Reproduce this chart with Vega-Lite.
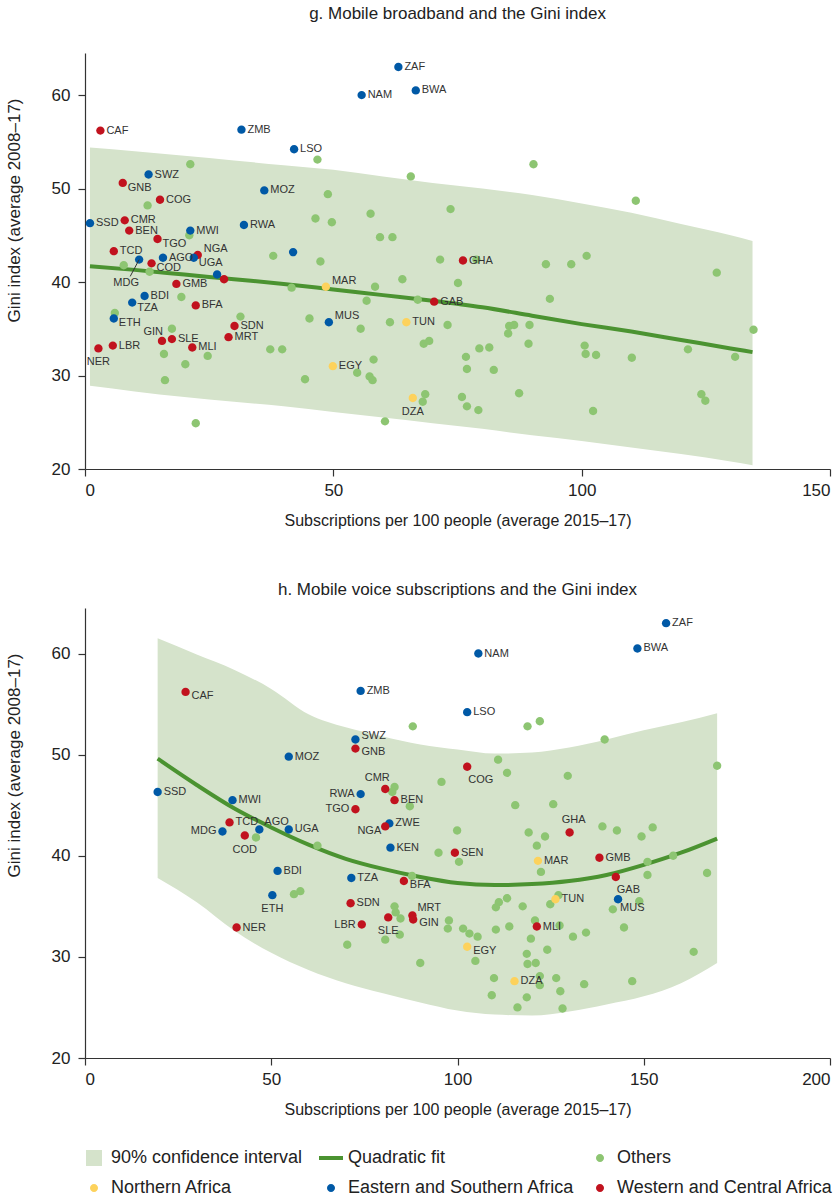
{
"$schema": "https://vega.github.io/schema/vega-lite/v6.json",
"background": "white",
"padding": {"left": 5, "top": 5, "right": 5, "bottom": 5},
"config": {
  "font": "Liberation Sans",
  "view": {"stroke": null},
  "axis": {"domainColor": "#333", "tickColor": "#333", "labelColor": "#222", "titleColor": "#222", "labelFontSize": 17, "titleFontSize": 16, "titleFontWeight": "normal", "grid": false, "tickSize": 7, "domainWidth": 1.2, "tickWidth": 1.2},
  "axisX": {"labelPadding": 6, "titlePadding": 14},
  "axisY": {"labelPadding": 8, "titlePadding": 28, "titleFontSize": 17, "titleY": 157},
  "title": {"fontSize": 17, "fontWeight": "normal", "color": "#222"},
  "text": {"font": "Liberation Sans", "fontSize": 11, "color": "#333"},
  "legend": {"title": null, "orient": "bottom", "direction": "horizontal", "columns": 3, "labelFontSize": 18, "labelColor": "#222", "labelLimit": 400, "columnPadding": 16, "rowPadding": 12, "symbolSize": 256, "labelOffset": 8, "offset": 32, "symbolStrokeWidth": 0}
},
"datasets": {
  "g_fit": [
    {"x":1,"y":41.7,"lo":28.9,"hi":54.4},{"x":10,"y":41.3,"lo":28.3,"hi":54.0},{"x":20,"y":40.8,"lo":27.7,"hi":53.5},
    {"x":30,"y":40.3,"lo":27.2,"hi":53.0},{"x":40,"y":39.8,"lo":26.7,"hi":52.5},{"x":50,"y":39.2,"lo":26.1,"hi":52.0},
    {"x":60,"y":38.6,"lo":25.5,"hi":51.3},{"x":70,"y":38.0,"lo":24.9,"hi":50.6},{"x":80,"y":37.3,"lo":24.3,"hi":50.0},
    {"x":90,"y":36.4,"lo":23.6,"hi":49.3},{"x":100,"y":35.5,"lo":23.0,"hi":48.4},{"x":110,"y":34.7,"lo":22.3,"hi":47.4},
    {"x":120,"y":33.8,"lo":21.6,"hi":46.2},{"x":130,"y":32.9,"lo":20.8,"hi":45.0},{"x":134.4,"y":32.5,"lo":20.4,"hi":44.4}
  ],
  "h_fit": [
    {"x":19.5,"y":49.6,"lo":37.8,"hi":61.5},{"x":30,"y":47.0,"lo":35.4,"hi":59.9},{"x":40,"y":44.7,"lo":32.6,"hi":58.4},
    {"x":50,"y":42.8,"lo":30.4,"hi":56.5},{"x":60,"y":41.1,"lo":28.7,"hi":54.0},{"x":70,"y":39.7,"lo":27.4,"hi":52.7},
    {"x":80,"y":38.7,"lo":26.4,"hi":51.8},{"x":90,"y":37.9,"lo":25.5,"hi":51.0},{"x":100,"y":37.3,"lo":24.7,"hi":50.5},
    {"x":110,"y":37.1,"lo":24.3,"hi":50.1},{"x":120,"y":37.2,"lo":24.2,"hi":50.2},{"x":130,"y":37.5,"lo":24.6,"hi":50.7},
    {"x":140,"y":38.1,"lo":25.3,"hi":51.5},{"x":150,"y":39.1,"lo":26.1,"hi":52.4},{"x":160,"y":40.3,"lo":27.4,"hi":53.2},
    {"x":169.7,"y":41.7,"lo":29.4,"hi":54.1}
  ],
  "g_pts": [
    {"region":"Others","x":21.2,"y":52.6},{"region":"Others","x":46.8,"y":53.1},{"region":"Others","x":48.9,"y":49.4},
    {"region":"Others","x":12.6,"y":48.2},{"region":"Others","x":46.4,"y":46.8},{"region":"Others","x":49.7,"y":46.4},
    {"region":"Others","x":21.0,"y":45.0},{"region":"Others","x":90.3,"y":52.6},{"region":"Others","x":65.6,"y":51.3},
    {"region":"Others","x":73.6,"y":47.8},{"region":"Others","x":57.5,"y":47.3},{"region":"Others","x":59.4,"y":44.8},
    {"region":"Others","x":61.9,"y":44.8},{"region":"Others","x":110.9,"y":48.7},{"region":"Others","x":92.8,"y":41.9},
    {"region":"Others","x":97.9,"y":41.9},{"region":"Others","x":101.0,"y":42.8},{"region":"Others","x":93.6,"y":38.2},
    {"region":"Others","x":127.2,"y":41.0},{"region":"Others","x":89.5,"y":35.4},{"region":"Others","x":89.3,"y":33.4},
    {"region":"Others","x":100.6,"y":33.2},{"region":"Others","x":100.8,"y":32.3},{"region":"Others","x":102.9,"y":32.2},
    {"region":"Others","x":110.1,"y":31.9},{"region":"Others","x":121.4,"y":32.8},{"region":"Others","x":130.9,"y":32.0},
    {"region":"Others","x":134.6,"y":34.9},{"region":"Others","x":102.3,"y":26.2},{"region":"Others","x":124.1,"y":28.0},
    {"region":"Others","x":124.9,"y":27.3},{"region":"Others","x":47.4,"y":42.2},{"region":"Others","x":71.5,"y":42.4},
    {"region":"Others","x":78.8,"y":42.4},{"region":"Others","x":63.9,"y":40.3},{"region":"Others","x":75.1,"y":39.9},
    {"region":"Others","x":41.6,"y":39.4},{"region":"Others","x":58.4,"y":39.5},{"region":"Others","x":56.7,"y":38.0},
    {"region":"Others","x":67.0,"y":38.1},{"region":"Others","x":45.2,"y":36.1},{"region":"Others","x":55.5,"y":35.0},
    {"region":"Others","x":61.4,"y":35.7},{"region":"Others","x":73.0,"y":35.4},{"region":"Others","x":85.4,"y":35.3},
    {"region":"Others","x":86.4,"y":35.4},{"region":"Others","x":85.2,"y":34.5},{"region":"Others","x":68.2,"y":33.4},
    {"region":"Others","x":69.3,"y":33.7},{"region":"Others","x":39.7,"y":32.8},{"region":"Others","x":79.4,"y":32.9},
    {"region":"Others","x":81.4,"y":33.0},{"region":"Others","x":58.1,"y":31.7},{"region":"Others","x":76.7,"y":32.0},
    {"region":"Others","x":76.9,"y":30.7},{"region":"Others","x":82.3,"y":30.6},{"region":"Others","x":54.8,"y":30.3},
    {"region":"Others","x":44.3,"y":29.6},{"region":"Others","x":57.3,"y":29.9},{"region":"Others","x":57.9,"y":29.5},
    {"region":"Others","x":87.4,"y":28.1},{"region":"Others","x":68.5,"y":28.0},{"region":"Others","x":68.0,"y":27.2},
    {"region":"Others","x":75.9,"y":27.7},{"region":"Others","x":76.9,"y":26.7},{"region":"Others","x":79.2,"y":26.3},
    {"region":"Others","x":60.4,"y":25.1},{"region":"Others","x":7.8,"y":41.8},{"region":"Others","x":13.0,"y":41.1},
    {"region":"Others","x":37.9,"y":42.8},{"region":"Others","x":19.4,"y":38.4},{"region":"Others","x":6.0,"y":36.7},
    {"region":"Others","x":31.3,"y":36.3},{"region":"Others","x":17.5,"y":35.0},{"region":"Others","x":37.3,"y":32.8},
    {"region":"Others","x":15.9,"y":32.3},{"region":"Others","x":24.7,"y":32.1},{"region":"Others","x":20.2,"y":31.2},
    {"region":"Others","x":16.1,"y":29.5},{"region":"Others","x":22.3,"y":24.9},
    {"code":"ZAF","region":"Eastern and Southern Africa","x":63.1,"y":63.0},
    {"code":"NAM","region":"Eastern and Southern Africa","x":55.7,"y":60.0},
    {"code":"BWA","region":"Eastern and Southern Africa","x":66.6,"y":60.5},
    {"code":"LSO","region":"Eastern and Southern Africa","x":42.1,"y":54.2},
    {"code":"ZMB","region":"Eastern and Southern Africa","x":31.5,"y":56.3},
    {"code":"CAF","region":"Western and Central Africa","x":3.1,"y":56.2},
    {"code":"SWZ","region":"Eastern and Southern Africa","x":12.8,"y":51.5},
    {"code":"GNB","region":"Western and Central Africa","x":7.6,"y":50.6},
    {"code":"MOZ","region":"Eastern and Southern Africa","x":36.1,"y":49.8},
    {"code":"COG","region":"Western and Central Africa","x":15.1,"y":48.8},
    {"code":"SSD","region":"Eastern and Southern Africa","x":1.0,"y":46.3},
    {"code":"CMR","region":"Western and Central Africa","x":8.0,"y":46.6},
    {"code":"RWA","region":"Eastern and Southern Africa","x":32.0,"y":46.1},
    {"code":"BEN","region":"Western and Central Africa","x":8.9,"y":45.5},
    {"code":"MWI","region":"Eastern and Southern Africa","x":21.2,"y":45.5},
    {"code":"TGO","region":"Western and Central Africa","x":14.6,"y":44.6},
    {"code":"ZWE","region":"Eastern and Southern Africa","x":41.9,"y":43.2},
    {"code":"NGA","region":"Western and Central Africa","x":22.7,"y":42.9},
    {"code":"TCD","region":"Western and Central Africa","x":5.8,"y":43.3},
    {"code":"MDG","region":"Eastern and Southern Africa","x":10.9,"y":42.4},
    {"code":"AGO","region":"Eastern and Southern Africa","x":15.7,"y":42.6},
    {"code":"UGA","region":"Eastern and Southern Africa","x":21.9,"y":42.6},
    {"code":"COD","region":"Western and Central Africa","x":13.4,"y":42.0},
    {"code":"KEN","region":"Eastern and Southern Africa","x":26.6,"y":40.8},
    {"code":"SEN","region":"Western and Central Africa","x":28.0,"y":40.3},
    {"code":"GHA","region":"Western and Central Africa","x":76.1,"y":42.3},
    {"code":"MAR","region":"Northern Africa","x":48.5,"y":39.5},
    {"code":"GMB","region":"Western and Central Africa","x":18.4,"y":39.8},
    {"code":"GAB","region":"Western and Central Africa","x":70.3,"y":37.9},
    {"code":"BFA","region":"Western and Central Africa","x":22.3,"y":37.5},
    {"code":"BDI","region":"Eastern and Southern Africa","x":12.0,"y":38.5},
    {"code":"TZA","region":"Eastern and Southern Africa","x":9.5,"y":37.8},
    {"code":"ETH","region":"Eastern and Southern Africa","x":5.8,"y":36.1},
    {"code":"TUN","region":"Northern Africa","x":64.7,"y":35.7},
    {"code":"MUS","region":"Eastern and Southern Africa","x":49.1,"y":35.7},
    {"code":"SDN","region":"Western and Central Africa","x":30.1,"y":35.3},
    {"code":"MRT","region":"Western and Central Africa","x":28.9,"y":34.1},
    {"code":"GIN","region":"Western and Central Africa","x":15.5,"y":33.7},
    {"code":"LBR","region":"Western and Central Africa","x":5.6,"y":33.2},
    {"code":"SLE","region":"Western and Central Africa","x":17.5,"y":33.9},
    {"code":"MLI","region":"Western and Central Africa","x":21.6,"y":33.0},
    {"code":"NER","region":"Western and Central Africa","x":2.7,"y":32.9},
    {"code":"EGY","region":"Northern Africa","x":49.9,"y":31.0},
    {"code":"DZA","region":"Northern Africa","x":66.0,"y":27.6}
  ],
  "h_pts": [
    {"region":"Others","x":88.0,"y":52.8},{"region":"Others","x":118.8,"y":52.8},{"region":"Others","x":122.1,"y":53.3},
    {"region":"Others","x":139.5,"y":51.5},{"region":"Others","x":110.9,"y":49.5},{"region":"Others","x":113.3,"y":48.2},
    {"region":"Others","x":95.7,"y":47.3},{"region":"Others","x":129.6,"y":47.9},{"region":"Others","x":169.7,"y":48.9},
    {"region":"Others","x":83.1,"y":46.8},{"region":"Others","x":82.5,"y":46.3},{"region":"Others","x":87.2,"y":44.9},
    {"region":"Others","x":115.5,"y":45.0},{"region":"Others","x":125.7,"y":45.1},{"region":"Others","x":99.9,"y":42.5},
    {"region":"Others","x":119.1,"y":42.3},{"region":"Others","x":123.5,"y":41.9},{"region":"Others","x":121.3,"y":41.0},
    {"region":"Others","x":138.9,"y":42.9},{"region":"Others","x":142.8,"y":42.5},{"region":"Others","x":149.4,"y":41.9},
    {"region":"Others","x":152.4,"y":42.8},{"region":"Others","x":94.9,"y":40.3},{"region":"Others","x":100.4,"y":39.4},
    {"region":"Others","x":122.4,"y":38.4},{"region":"Others","x":151.0,"y":39.4},{"region":"Others","x":157.9,"y":40.0},
    {"region":"Others","x":167.0,"y":38.3},{"region":"Others","x":151.0,"y":38.1},{"region":"Others","x":87.8,"y":38.0},
    {"region":"Others","x":127.1,"y":36.1},{"region":"Others","x":124.9,"y":35.2},{"region":"Others","x":113.3,"y":35.8},
    {"region":"Others","x":111.1,"y":35.4},{"region":"Others","x":110.3,"y":34.9},{"region":"Others","x":117.5,"y":35.0},
    {"region":"Others","x":148.8,"y":35.5},{"region":"Others","x":141.7,"y":34.7},{"region":"Others","x":83.1,"y":35.0},
    {"region":"Others","x":83.4,"y":34.4},{"region":"Others","x":84.7,"y":33.8},{"region":"Others","x":97.7,"y":33.6},
    {"region":"Others","x":97.4,"y":32.8},{"region":"Others","x":120.8,"y":33.6},{"region":"Others","x":127.4,"y":33.1},
    {"region":"Others","x":101.5,"y":32.8},{"region":"Others","x":103.2,"y":32.3},{"region":"Others","x":105.4,"y":32.0},
    {"region":"Others","x":110.3,"y":32.7},{"region":"Others","x":113.9,"y":33.0},{"region":"Others","x":131.0,"y":32.0},
    {"region":"Others","x":134.5,"y":32.4},{"region":"Others","x":144.7,"y":32.9},{"region":"Others","x":84.5,"y":32.2},
    {"region":"Others","x":80.6,"y":31.7},{"region":"Others","x":119.7,"y":31.8},{"region":"Others","x":124.1,"y":30.7},
    {"region":"Others","x":118.6,"y":30.3},{"region":"Others","x":163.4,"y":30.5},{"region":"Others","x":104.8,"y":29.6},
    {"region":"Others","x":90.0,"y":29.4},{"region":"Others","x":118.8,"y":29.3},{"region":"Others","x":121.0,"y":29.4},
    {"region":"Others","x":122.1,"y":28.1},{"region":"Others","x":126.5,"y":27.9},{"region":"Others","x":109.8,"y":27.9},
    {"region":"Others","x":134.0,"y":27.3},{"region":"Others","x":146.9,"y":27.6},{"region":"Others","x":122.1,"y":27.2},
    {"region":"Others","x":127.6,"y":26.6},{"region":"Others","x":109.2,"y":26.2},{"region":"Others","x":118.6,"y":26.0},
    {"region":"Others","x":116.1,"y":25.0},{"region":"Others","x":128.2,"y":24.9},{"region":"Others","x":45.9,"y":41.8},
    {"region":"Others","x":62.4,"y":41.0},{"region":"Others","x":56.1,"y":36.2},{"region":"Others","x":57.8,"y":36.5},
    {"region":"Others","x":70.4,"y":31.2},
    {"code":"ZAF","region":"Eastern and Southern Africa","x":156.0,"y":63.0},
    {"code":"NAM","region":"Eastern and Southern Africa","x":105.6,"y":60.0},
    {"code":"BWA","region":"Eastern and Southern Africa","x":148.3,"y":60.5},
    {"code":"LSO","region":"Eastern and Southern Africa","x":102.6,"y":54.2},
    {"code":"ZMB","region":"Eastern and Southern Africa","x":74.0,"y":56.3},
    {"code":"CAF","region":"Western and Central Africa","x":27.0,"y":56.2},
    {"code":"SWZ","region":"Eastern and Southern Africa","x":72.6,"y":51.5},
    {"code":"GNB","region":"Western and Central Africa","x":72.6,"y":50.6},
    {"code":"MOZ","region":"Eastern and Southern Africa","x":54.7,"y":49.8},
    {"code":"COG","region":"Western and Central Africa","x":102.6,"y":48.8},
    {"code":"SSD","region":"Eastern and Southern Africa","x":19.5,"y":46.3},
    {"code":"CMR","region":"Western and Central Africa","x":80.6,"y":46.6},
    {"code":"RWA","region":"Eastern and Southern Africa","x":74.0,"y":46.1},
    {"code":"BEN","region":"Western and Central Africa","x":83.1,"y":45.5},
    {"code":"MWI","region":"Eastern and Southern Africa","x":39.6,"y":45.5},
    {"code":"TGO","region":"Western and Central Africa","x":72.6,"y":44.6},
    {"code":"ZWE","region":"Eastern and Southern Africa","x":81.7,"y":43.2},
    {"code":"NGA","region":"Western and Central Africa","x":80.6,"y":42.9},
    {"code":"TCD","region":"Western and Central Africa","x":38.8,"y":43.3},
    {"code":"MDG","region":"Eastern and Southern Africa","x":36.9,"y":42.4},
    {"code":"AGO","region":"Eastern and Southern Africa","x":46.8,"y":42.6},
    {"code":"UGA","region":"Eastern and Southern Africa","x":54.7,"y":42.6},
    {"code":"COD","region":"Western and Central Africa","x":42.9,"y":42.0},
    {"code":"KEN","region":"Eastern and Southern Africa","x":82.0,"y":40.8},
    {"code":"SEN","region":"Western and Central Africa","x":99.3,"y":40.3},
    {"code":"GHA","region":"Western and Central Africa","x":130.1,"y":42.3},
    {"code":"MAR","region":"Northern Africa","x":121.6,"y":39.5},
    {"code":"GMB","region":"Western and Central Africa","x":138.1,"y":39.8},
    {"code":"GAB","region":"Western and Central Africa","x":142.5,"y":37.9},
    {"code":"BFA","region":"Western and Central Africa","x":85.6,"y":37.5},
    {"code":"BDI","region":"Eastern and Southern Africa","x":51.7,"y":38.5},
    {"code":"TZA","region":"Eastern and Southern Africa","x":71.5,"y":37.8},
    {"code":"ETH","region":"Eastern and Southern Africa","x":50.3,"y":36.1},
    {"code":"TUN","region":"Northern Africa","x":126.3,"y":35.7},
    {"code":"MUS","region":"Eastern and Southern Africa","x":143.1,"y":35.7},
    {"code":"SDN","region":"Western and Central Africa","x":71.3,"y":35.3},
    {"code":"MRT","region":"Western and Central Africa","x":87.9,"y":34.1},
    {"code":"GIN","region":"Western and Central Africa","x":88.1,"y":33.7},
    {"code":"LBR","region":"Western and Central Africa","x":74.3,"y":33.2},
    {"code":"SLE","region":"Western and Central Africa","x":81.4,"y":33.9},
    {"code":"MLI","region":"Western and Central Africa","x":121.3,"y":33.0},
    {"code":"NER","region":"Western and Central Africa","x":40.7,"y":32.9},
    {"code":"EGY","region":"Northern Africa","x":102.6,"y":31.0},
    {"code":"DZA","region":"Northern Africa","x":115.3,"y":27.6}
  ]
},
"spacing": 53,
"vconcat": [
  {
    "title": {"text": "g. Mobile broadband and the Gini index", "offset": 30},
    "width": 745,
    "height": 416,
    "encoding": {
      "x": {"field": "x", "type": "quantitative", "scale": {"domain": [0, 150], "nice": false}, "axis": {"values": [0, 50, 100, 150]}, "title": "Subscriptions per 100 people (average 2015–17)"},
      "y": {"field": "y", "type": "quantitative", "scale": {"domain": [20, 64.5], "nice": false, "zero": false}, "axis": {"values": [20, 30, 40, 50, 60]}, "title": "Gini index (average 2008–17)"}
    },
    "layer": [
      {"data": {"name": "g_fit"}, "mark": {"type": "area", "opacity": 1, "interpolate": "monotone"},
       "encoding": {"y": {"field": "lo", "type": "quantitative", "scale": {"domain": [20, 64.5], "nice": false, "zero": false}, "axis": {"values": [20, 30, 40, 50, 60]}, "title": "Gini index (average 2008–17)"}, "y2": {"field": "hi"}, "color": {"datum": "90% confidence interval"}}},
      {"data": {"name": "g_fit"}, "mark": {"type": "line", "strokeWidth": 4, "interpolate": "monotone"},
       "encoding": {"color": {"datum": "Quadratic fit"}}},
      {"data": {"name": "g_pts"}, "mark": {"type": "point", "filled": true, "size": 280, "opacity": 1, "strokeWidth": 0},
       "encoding": {
         "color": {"field": "region", "type": "nominal",
           "scale": {"domain": ["90% confidence interval", "Quadratic fit", "Others", "Northern Africa", "Eastern and Southern Africa", "Western and Central Africa"], "range": ["#d5e3cb", "#4b9331", "#8dc572", "#fdd25c", "#0059a6", "#c1121e"]}},
         "shape": {"field": "region", "type": "nominal",
           "scale": {"domain": ["90% confidence interval", "Quadratic fit", "Others", "Northern Africa", "Eastern and Southern Africa", "Western and Central Africa"],
             "range": ["square", "M-1.5,-0.25L1.5,-0.25L1.5,0.25L-1.5,0.25Z", "M0.5,0A0.5,0.5,0,1,1,-0.5,0A0.5,0.5,0,1,1,0.5,0Z", "M0.5,0A0.5,0.5,0,1,1,-0.5,0A0.5,0.5,0,1,1,0.5,0Z", "M0.5,0A0.5,0.5,0,1,1,-0.5,0A0.5,0.5,0,1,1,0.5,0Z", "M0.5,0A0.5,0.5,0,1,1,-0.5,0A0.5,0.5,0,1,1,0.5,0Z"]}}}},
      {"data": {"name": "g_pts"}, "transform": [{"filter": "datum.code === 'MDG'"}], "mark": {"type": "rule", "color": "#333", "strokeWidth": 1},
       "encoding": {"x2": {"datum": 9.1}, "y2": {"datum": 40.6}}},
      {"data": {"name": "g_pts"}, "transform": [{"filter": "isValid(datum.code) && indexof(['ZWE','KEN','SEN','GIN','NER','DZA','MDG','NGA','MAR','MUS','UGA','COD','TZA','ETH','TGO','GNB'], datum.code) < 0"}],
       "mark": {"type": "text", "align": "left", "baseline": "middle", "dx": 6}, "encoding": {"text": {"field": "code"}}},
      {"data": {"name": "g_pts"}, "transform": [{"filter": "indexof(['NGA','MAR','MUS'], datum.code) >= 0"}],
       "mark": {"type": "text", "align": "left", "baseline": "middle", "dx": 6, "dy": -6}, "encoding": {"text": {"field": "code"}}},
      {"data": {"name": "g_pts"}, "transform": [{"filter": "indexof(['UGA','COD','TZA','ETH','TGO','GNB'], datum.code) >= 0"}],
       "mark": {"type": "text", "align": "left", "baseline": "middle", "dx": 5, "dy": 5}, "encoding": {"text": {"field": "code"}}},
      {"data": {"name": "g_pts"}, "transform": [{"filter": "datum.code === 'GIN'"}],
       "mark": {"type": "text", "align": "right", "baseline": "middle", "dx": 1, "dy": -9}, "encoding": {"text": {"field": "code"}}},
      {"data": {"name": "g_pts"}, "transform": [{"filter": "datum.code === 'NER' || datum.code === 'DZA'"}],
       "mark": {"type": "text", "align": "center", "baseline": "middle", "dy": 14}, "encoding": {"text": {"field": "code"}}},
      {"data": {"name": "g_pts"}, "transform": [{"filter": "datum.code === 'MDG'"}],
       "mark": {"type": "text", "align": "center", "baseline": "middle", "dx": -13, "dy": 23}, "encoding": {"text": {"field": "code"}}}
    ]
  },
  {
    "title": {"text": "h. Mobile voice subscriptions and the Gini index", "offset": 9},
    "width": 745,
    "height": 450,
    "encoding": {
      "x": {"field": "x", "type": "quantitative", "scale": {"domain": [0, 200], "nice": false}, "axis": {"values": [0, 50, 100, 150, 200]}, "title": "Subscriptions per 100 people (average 2015–17)"},
      "y": {"field": "y", "type": "quantitative", "scale": {"domain": [20, 64.5], "nice": false, "zero": false}, "axis": {"values": [20, 30, 40, 50, 60]}, "title": "Gini index (average 2008–17)"}
    },
    "layer": [
      {"data": {"name": "h_fit"}, "mark": {"type": "area", "opacity": 1, "interpolate": "monotone"},
       "encoding": {"y": {"field": "lo", "type": "quantitative", "scale": {"domain": [20, 64.5], "nice": false, "zero": false}, "axis": {"values": [20, 30, 40, 50, 60]}, "title": "Gini index (average 2008–17)"}, "y2": {"field": "hi"}, "color": {"datum": "90% confidence interval"}}},
      {"data": {"name": "h_fit"}, "mark": {"type": "line", "strokeWidth": 4, "interpolate": "monotone"},
       "encoding": {"color": {"datum": "Quadratic fit"}}},
      {"data": {"name": "h_pts"}, "mark": {"type": "point", "filled": true, "size": 280, "opacity": 1, "strokeWidth": 0},
       "encoding": {"color": {"field": "region", "type": "nominal"}, "shape": {"field": "region", "type": "nominal"}}},
      {"data": {"name": "h_pts"}, "transform": [{"filter": "isValid(datum.code) && indexof(['RWA','TGO','NGA','MDG','LBR','GHA','CMR','COG','GAB','COD','SLE','ETH','MRT','AGO','CAF','GIN','BFA','EGY','MUS','SWZ','GNB'], datum.code) < 0"}],
       "mark": {"type": "text", "align": "left", "baseline": "middle", "dx": 6}, "encoding": {"text": {"field": "code"}}},
      {"data": {"name": "h_pts"}, "transform": [{"filter": "datum.code === 'SWZ'"}],
       "mark": {"type": "text", "align": "left", "baseline": "middle", "dx": 6, "dy": -3}, "encoding": {"text": {"field": "code"}}},
      {"data": {"name": "h_pts"}, "transform": [{"filter": "datum.code === 'GNB'"}],
       "mark": {"type": "text", "align": "left", "baseline": "middle", "dx": 6, "dy": 3}, "encoding": {"text": {"field": "code"}}},
      {"data": {"name": "h_pts"}, "transform": [{"filter": "indexof(['MRT','AGO'], datum.code) >= 0"}],
       "mark": {"type": "text", "align": "left", "baseline": "middle", "dx": 5, "dy": -7}, "encoding": {"text": {"field": "code"}}},
      {"data": {"name": "h_pts"}, "transform": [{"filter": "indexof(['CAF','GIN','BFA','EGY'], datum.code) >= 0"}],
       "mark": {"type": "text", "align": "left", "baseline": "middle", "dx": 6, "dy": 4}, "encoding": {"text": {"field": "code"}}},
      {"data": {"name": "h_pts"}, "transform": [{"filter": "datum.code === 'MUS'"}],
       "mark": {"type": "text", "align": "left", "baseline": "middle", "dx": 2, "dy": 9}, "encoding": {"text": {"field": "code"}}},
      {"data": {"name": "h_pts"}, "transform": [{"filter": "indexof(['RWA','TGO','MDG','LBR'], datum.code) >= 0"}],
       "mark": {"type": "text", "align": "right", "baseline": "middle", "dx": -6}, "encoding": {"text": {"field": "code"}}},
      {"data": {"name": "h_pts"}, "transform": [{"filter": "datum.code === 'NGA'"}],
       "mark": {"type": "text", "align": "right", "baseline": "middle", "dx": -4, "dy": 5}, "encoding": {"text": {"field": "code"}}},
      {"data": {"name": "h_pts"}, "transform": [{"filter": "datum.code === 'GHA'"}],
       "mark": {"type": "text", "align": "center", "baseline": "middle", "dx": 4, "dy": -12}, "encoding": {"text": {"field": "code"}}},
      {"data": {"name": "h_pts"}, "transform": [{"filter": "datum.code === 'CMR'"}],
       "mark": {"type": "text", "align": "center", "baseline": "middle", "dx": -8, "dy": -11}, "encoding": {"text": {"field": "code"}}},
      {"data": {"name": "h_pts"}, "transform": [{"filter": "indexof(['COD','SLE','ETH'], datum.code) >= 0"}],
       "mark": {"type": "text", "align": "center", "baseline": "middle", "dy": 14}, "encoding": {"text": {"field": "code"}}},
      {"data": {"name": "h_pts"}, "transform": [{"filter": "indexof(['COG','GAB'], datum.code) >= 0"}],
       "mark": {"type": "text", "align": "left", "baseline": "middle", "dx": 1, "dy": 13}, "encoding": {"text": {"field": "code"}}}
    ]
  }
]
}
